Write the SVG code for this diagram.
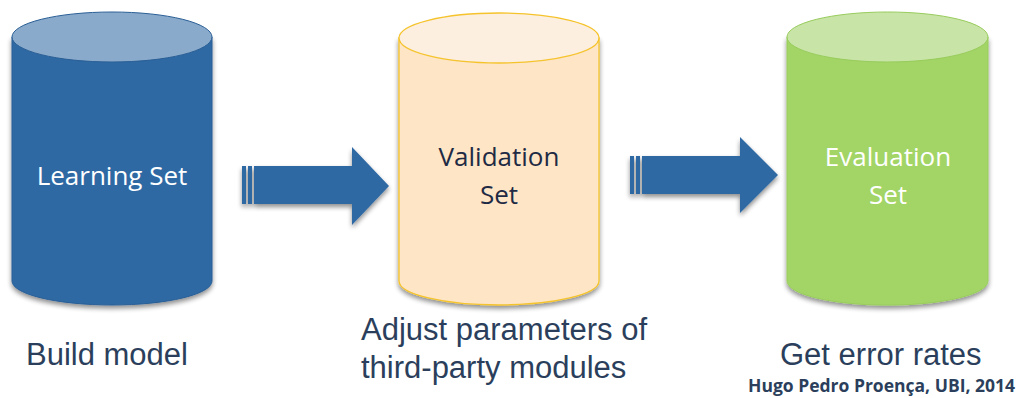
<svg xmlns="http://www.w3.org/2000/svg" width="1024" height="398" viewBox="0 0 1024 398">
<defs>
<filter id="sh" x="-10%" y="-10%" width="120%" height="125%">
<feGaussianBlur in="SourceAlpha" stdDeviation="2.5"/>
<feOffset dx="0" dy="3" result="b"/>
<feComponentTransfer><feFuncA type="linear" slope="0.45"/></feComponentTransfer>
<feMerge><feMergeNode/><feMergeNode in="SourceGraphic"/></feMerge>
</filter>
</defs>
<style>
.lbl{font-family:"Open Sans","Lato","DejaVu Sans",sans-serif;font-size:26px;text-anchor:middle}
.cap{font-family:"Liberation Sans",Arial,sans-serif;font-size:31px;fill:#2B3F5C}
.arrow{fill:#2E69A4}
</style>
<rect width="1024" height="398" fill="#ffffff"/>
<g id="learning">
<path d="M12,37 V281 A100,24 0 0 0 212,281 V37 Z" fill="#2E69A4" stroke="#2A5F96" stroke-width="1" filter="url(#sh)"/>
<ellipse cx="112" cy="37" rx="100" ry="25" fill="#8AAACB" stroke="#2A5F96" stroke-width="1"/>
<text class="lbl" x="112" y="185" fill="#ffffff">Learning Set</text>
</g>
<g id="validation">
<path d="M399,38 V281 A100,24 0 0 0 599,281 V38 Z" fill="#FDE5C6" stroke="#F5C32C" stroke-width="1.3" filter="url(#sh)"/>
<ellipse cx="499" cy="38" rx="100" ry="25" fill="#FDEFDF" stroke="#F5C32C" stroke-width="1.3"/>
<text class="lbl" x="499" y="166" fill="#1F2A44">Validation</text>
<text class="lbl" x="499" y="204" fill="#1F2A44">Set</text>
</g>
<g id="evaluation">
<path d="M787,37 V281 A100,24 0 0 0 988,281 V37 Z" fill="#A2D565" stroke="#98CC5C" stroke-width="1" filter="url(#sh)"/>
<ellipse cx="887.5" cy="37" rx="100.5" ry="25" fill="#C8E4A7" stroke="#98CC5C" stroke-width="1"/>
<text class="lbl" x="888" y="166" fill="#ffffff">Evaluation</text>
<text class="lbl" x="888" y="204" fill="#ffffff">Set</text>
</g>
<g id="connectors" filter="url(#sh)">
<g>
<rect class="arrow" x="242" y="166" width="4" height="38"/>
<rect class="arrow" x="248" y="166" width="4" height="38"/>
<path class="arrow" d="M254,166 H352 V147 L389,186 L352,225 V204 H254 Z"/>
</g>
<g>
<rect class="arrow" x="630" y="156" width="4" height="38"/>
<rect class="arrow" x="636" y="156" width="4" height="38"/>
<path class="arrow" d="M642,156 H740 V137 L778,175 L740,213 V194 H642 Z"/>
</g>
</g>
<g id="captions">
<text class="cap" x="26" y="365">Build model</text>
<text class="cap" x="361" y="340">Adjust parameters of</text>
<text class="cap" x="361" y="378">third-party modules</text>
<text class="cap" x="780" y="365">Get error rates</text>
<text x="1015" y="392" text-anchor="end" font-family="'Open Sans','DejaVu Sans',sans-serif" font-weight="bold" font-size="17.5" fill="#2B3F5C">Hugo Pedro Proença, UBI, 2014</text>
</g>
</svg>
